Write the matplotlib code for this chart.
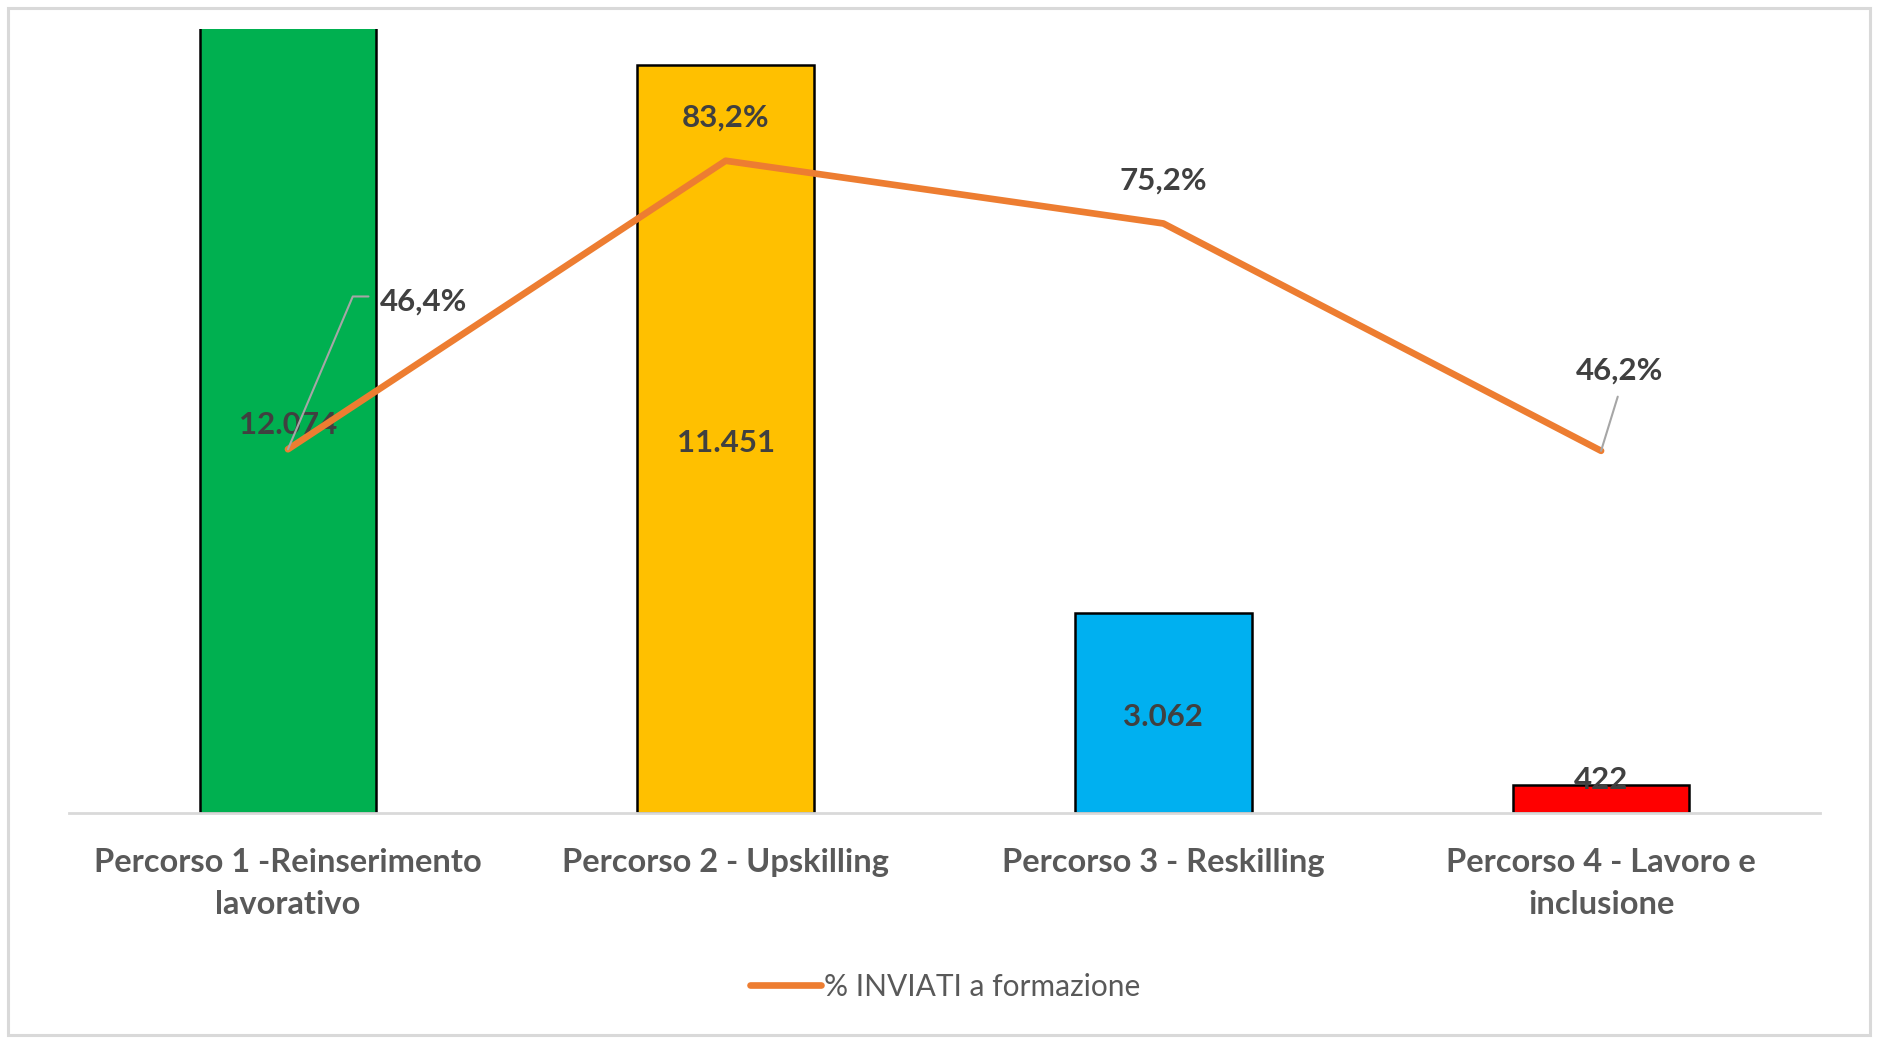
import matplotlib
matplotlib.use('Agg')
import matplotlib.pyplot as plt
from matplotlib.patches import Rectangle

# dati
categorie = ['Percorso 1 -Reinserimento\nlavorativo', 'Percorso 2 - Upskilling',
             'Percorso 3 - Reskilling', 'Percorso 4 - Lavoro e\ninclusione']
inviati = [12074, 11451, 3062, 422]
perc_inviati = [0.464, 0.832, 0.752, 0.462]
colori = ['#00B050', '#FFC000', '#00B0F0', '#FF0000']
serie_linea = '% INVIATI a formazione'

plt.rcParams['font.family'] = ['Lato', 'DejaVu Sans']

GRIGIO = '#595959'
SCURO = '#404040'
ARANCIO = '#ED7D31'
GUIDA = '#A6A6A6'

fig = plt.figure(figsize=(18.77, 10.41), dpi=100)
ax = fig.add_axes([0.0368, 0.219, 0.9328, 0.7531])

x = list(range(len(categorie)))
ax.bar(x, inviati, width=0.404, color=colori, edgecolor='black', linewidth=1.8, zorder=2)
ax.set_xlim(-0.5, len(categorie) - 0.5)
ax.set_ylim(0, 12000)

for s in ['top', 'right', 'left']:
    ax.spines[s].set_visible(False)
ax.spines['bottom'].set_color('#D9D9D9')
ax.spines['bottom'].set_linewidth(2)
ax.set_yticks([])
ax.set_xticks(x)
ax.set_xticklabels(categorie, fontsize=23.5, fontweight='bold', color=GRIGIO, linespacing=1.55)
ax.tick_params(axis='x', length=0, pad=25)

# etichette barre
def fmt_num(v):
    return f'{v:,}'.replace(',', '.')

for i, v in enumerate(inviati):
    if v < 1000:
        ax.annotate(fmt_num(v), xy=(i, v), xytext=(0, 4), textcoords='offset points',
                    ha='center', va='center', fontsize=22.5, fontweight='bold', color=SCURO, zorder=5)
    else:
        yv = min(v, ax.get_ylim()[1]) / 2
        ax.annotate(fmt_num(v), xy=(i, yv), xytext=(0, -3), textcoords='offset points',
                    ha='center', va='center', fontsize=22.5, fontweight='bold', color=SCURO, zorder=5)

# asse secondario
ax2 = ax.twinx()
ax2.set_ylim(0, 1)
ax2.axis('off')
linea, = ax2.plot(x, perc_inviati, color=ARANCIO, linewidth=4.8, solid_capstyle='round',
                  label=serie_linea, zorder=3)

def fmt_pct(p):
    return f'{p * 100:.1f}%'.replace('.', ',')

lab_kw = dict(textcoords='offset points', fontsize=22.5, fontweight='bold', color=SCURO, va='center')

# 1: linea guida spezzata
ax2.annotate('', xy=(0, perc_inviati[0]), xytext=(58, 110), textcoords='offset points',
             arrowprops=dict(arrowstyle='-', color=GUIDA, lw=1.5, shrinkA=0, shrinkB=0,
                             connectionstyle='angle,angleA=0,angleB=67,rad=0'))
ax2.annotate(fmt_pct(perc_inviati[0]), xy=(0, perc_inviati[0]), xytext=(66, 106), ha='left', **lab_kw)
# 2, 3
ax2.annotate(fmt_pct(perc_inviati[1]), xy=(1, perc_inviati[1]), xytext=(0, 31), ha='center', **lab_kw)
ax2.annotate(fmt_pct(perc_inviati[2]), xy=(2, perc_inviati[2]), xytext=(0, 31), ha='center', **lab_kw)
# 4
ax2.annotate('', xy=(3, perc_inviati[3]), xytext=(12, 39), textcoords='offset points',
             arrowprops=dict(arrowstyle='-', color=GUIDA, lw=1.5, shrinkA=0, shrinkB=0))
ax2.annotate(fmt_pct(perc_inviati[3]), xy=(3, perc_inviati[3]), xytext=(13, 58), ha='center', **lab_kw)

fig.legend(handles=[linea], loc='center', bbox_to_anchor=(0.5035, 0.052), frameon=False,
           fontsize=21.5, labelcolor=GRIGIO, handlelength=2.4, handletextpad=0.1)

# bordo esterno
fig.patches.append(Rectangle((8 / 1877, 1 - 1035 / 1041), 1862 / 1877, 1027 / 1041,
                             transform=fig.transFigure, fill=False, edgecolor='#D9D9D9', linewidth=2.2))

fig.savefig('out.png', dpi=100)
